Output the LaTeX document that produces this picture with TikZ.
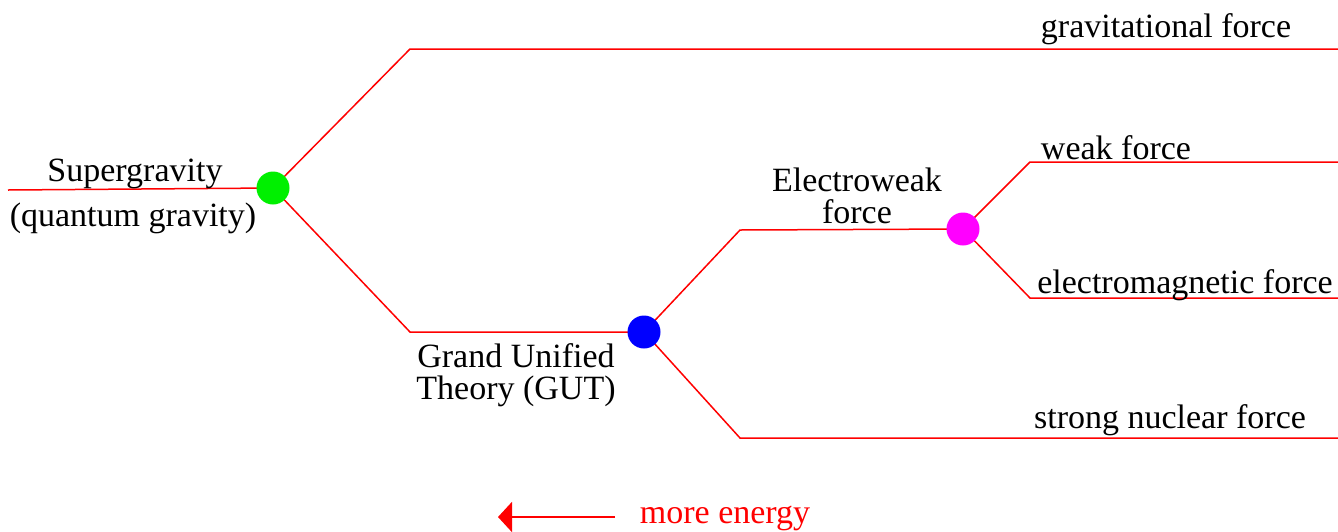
\documentclass[tikz,border=0pt]{standalone}
\usepackage{fontspec}
\setmainfont{Liberation Serif}
\usetikzlibrary{arrows.meta}
\definecolor{dotgreen}{RGB}{0,240,0}
\definecolor{dotmag}{RGB}{255,0,255}
\definecolor{dotblue}{RGB}{0,0,255}
\tikzset{
  branch/.style={draw=red, line width=0.75pt},
  dot/.style={circle, inner sep=0pt, minimum size=16.5pt},
  lbl/.style={font=\fontsize{17}{19}\selectfont, inner sep=0pt, align=center},
}
\begin{document}
\begin{tikzpicture}[x=0.5pt,y=-0.5pt]
\useasboundingbox (0,0) rectangle (1338,531);
\fill[white] (0,0) rectangle (1338,531);
% coordinates
\coordinate (l0) at (8,190);
\coordinate (g1) at (410,49);
\coordinate (g2) at (1338,49);
\coordinate (u1) at (410,332);
\coordinate (e1) at (740,230);
\coordinate (s1) at (740,438);
\coordinate (s2) at (1338,438);
\coordinate (w1) at (1030,162);
\coordinate (w2) at (1338,162);
\coordinate (em1) at (1030,298);
\coordinate (em2) at (1338,298);
\coordinate (gc) at (273,188);
\coordinate (bc) at (644,332);
\coordinate (mc) at (963,229);
% branches
\draw[branch] (l0) -- (gc);
\draw[branch] (gc) -- (g1) -- (g2);
\draw[branch] (gc) -- (u1) -- (bc);
\draw[branch] (bc) -- (e1) -- (mc);
\draw[branch] (bc) -- (s1) -- (s2);
\draw[branch] (mc) -- (w1) -- (w2);
\draw[branch] (mc) -- (em1) -- (em2);
% junction dots
\node[dot, fill=dotgreen] (g) at (gc) {};
\node[dot, fill=dotblue] (b) at (bc) {};
\node[dot, fill=dotmag] (m) at (mc) {};
% labels
\node[lbl] (tgrav) at (1166,29) {gravitational force};
\node[lbl] (tsg) at (135,174) {Supergravity};
\node[lbl] (tqg) at (133,218) {(quantum gravity)};
\node[lbl, font=\fontsize{17}{16}\selectfont] (tew) at (857,196) {Electroweak\\force};
\node[lbl] (tweak) at (1116,148) {weak force};
\node[lbl] (tem) at (1185,285) {electromagnetic force};
\node[lbl, font=\fontsize{17}{16}\selectfont] (tgu) at (516,375) {Grand Unified\\Theory (GUT)};
\node[lbl] (tsn) at (1170,420) {strong nuclear force};
\node[lbl, text=red] (tme) at (725,518) {more energy};
\coordinate (a0) at (615,517);
\coordinate (a1) at (498,517);
\draw[red, line width=1pt, -{Triangle[length=7pt,width=15pt]}] (a0) -- (a1);
\end{tikzpicture}
\end{document}
